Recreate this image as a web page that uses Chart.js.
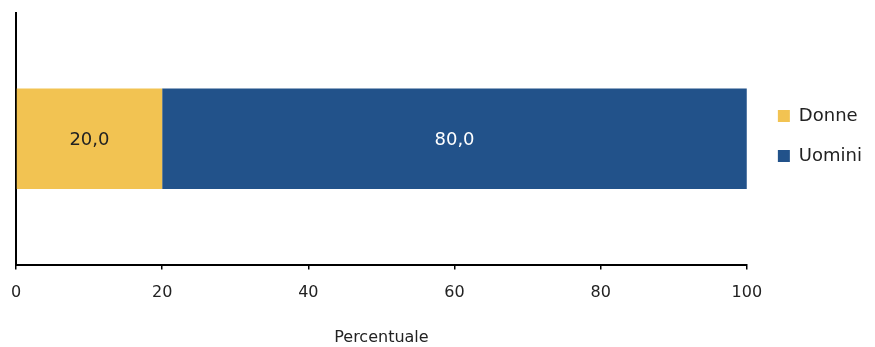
<!DOCTYPE html>
<html lang="it">
<head>
  <meta charset="UTF-8">
  <title>Donne e uomini</title>
  <script src="https://cdn.jsdelivr.net/npm/chart.js"></script>
  <style>
    body { margin: 0; background: #fff; }
  </style>
</head>
<body>
  <canvas id="genderChart" width="875" height="347"></canvas>
  <script>
    // Share by gender, percent
    const categories = [''];
    const seriesNames = ['Donne', 'Uomini'];
    const donne = [20.0];
    const uomini = [80.0];
    const xTicks = [0, 20, 40, 60, 80, 100];

    const FONT = "'DejaVu Sans', sans-serif";
    const colors = ['#F2C352', '#22528A'];
    const labelColors = ['#222222', '#ffffff'];

    // writes each segment's value in the middle of its bar
    const barLabels = {
      id: 'barLabels',
      afterDatasetsDraw(chart) {
        const ctx = chart.ctx;
        ctx.save();
        ctx.font = '18px ' + FONT;
        ctx.textAlign = 'center';
        ctx.textBaseline = 'middle';
        chart.data.datasets.forEach((ds, i) => {
          chart.getDatasetMeta(i).data.forEach((bar, j) => {
            const c = bar.getCenterPoint();
            ctx.fillStyle = labelColors[i];
            ctx.fillText(ds.data[j].toFixed(1).replace('.', ','), c.x, c.y + 2);
          });
        });
        ctx.restore();
      }
    };

    // move the legend block up beside the bar and a bit away from the plot
    const legendNudge = {
      id: 'legendNudge',
      afterLayout(chart) {
        const lg = chart.legend;
        const dx = 9, dy = -44;
        lg.left += dx; lg.right += dx;
        lg.top += dy; lg.bottom += dy;
      }
    };

    new Chart(document.getElementById('genderChart'), {
      type: 'bar',
      data: {
        labels: categories,
        datasets: [
          { label: seriesNames[0], data: donne, backgroundColor: colors[0] },
          { label: seriesNames[1], data: uomini, backgroundColor: colors[1] }
        ]
      },
      options: {
        indexAxis: 'y',
        responsive: false,
        animation: false,
        layout: { padding: { left: 8, top: 13, right: 12, bottom: 0 } },
        datasets: { bar: { barPercentage: 0.4, categoryPercentage: 1 } },
        scales: {
          x: {
            stacked: true,
            min: 0,
            max: 100,
            afterBuildTicks(scale) { scale.ticks = xTicks.map(v => ({ value: v })); },
            // the "0" label may hang past the left edge of the plot
            afterFit(scale) { scale.paddingLeft = 0; },
            grid: { drawOnChartArea: false, drawTicks: true, tickLength: 5, color: '#000', lineWidth: 1.5 },
            border: { display: true, color: '#000', width: 2 },
            ticks: { color: '#222', font: { family: FONT, size: 16 }, padding: 14 },
            title: {
              display: true,
              text: 'Percentuale',
              color: '#222',
              font: { family: FONT, size: 16 },
              padding: { top: 11, bottom: 0 }
            }
          },
          y: {
            stacked: true,
            grid: { display: false },
            border: { display: true, color: '#000', width: 2 },
            ticks: { display: false }
          }
        },
        plugins: {
          legend: {
            position: 'right',
            align: 'center',
            labels: {
              color: '#222',
              font: { family: FONT, size: 18 },
              boxWidth: 12,
              boxHeight: 12,
              padding: 22
            }
          },
          tooltip: { enabled: false }
        }
      },
      plugins: [barLabels, legendNudge]
    });
  </script>
</body>
</html>
